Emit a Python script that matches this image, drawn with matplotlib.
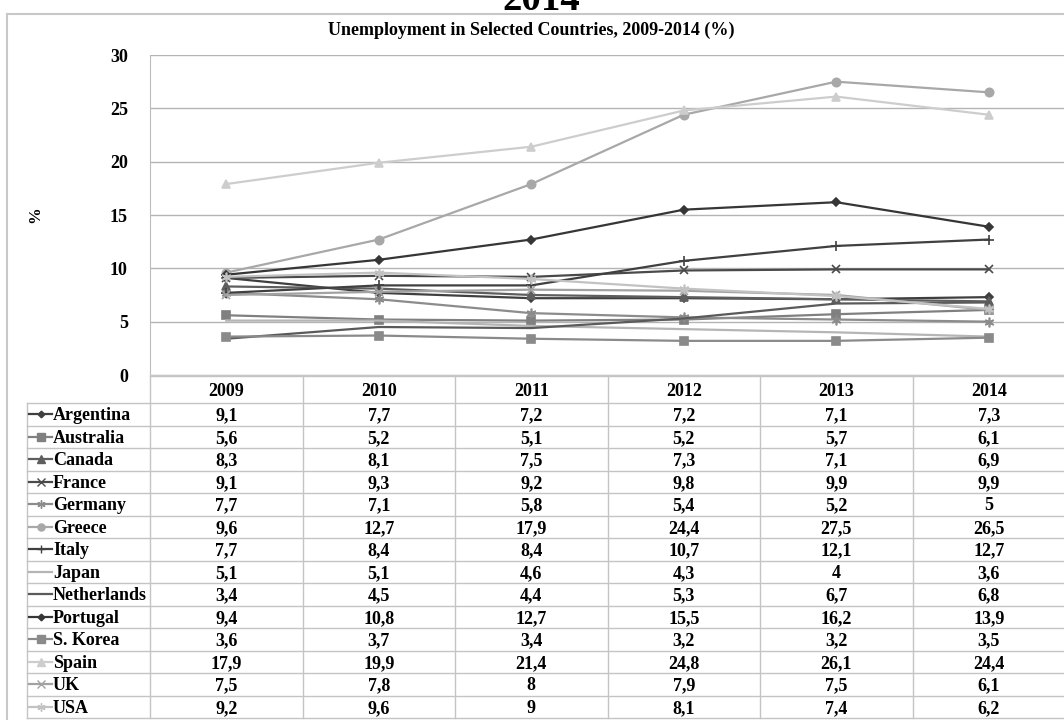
import matplotlib
matplotlib.use("Agg")
import matplotlib.pyplot as plt
from matplotlib.transforms import blended_transform_factory

years = ["2009", "2010", "2011", "2012", "2013", "2014"]
countries = ["Argentina", "Australia", "Canada", "France", "Germany", "Greece", "Italy",
             "Japan", "Netherlands", "Portugal", "S. Korea", "Spain", "UK", "USA"]

argentina = [9.1, 7.7, 7.2, 7.2, 7.1, 7.3]
australia = [5.6, 5.2, 5.1, 5.2, 5.7, 6.1]
canada = [8.3, 8.1, 7.5, 7.3, 7.1, 6.9]
france = [9.1, 9.3, 9.2, 9.8, 9.9, 9.9]
germany = [7.7, 7.1, 5.8, 5.4, 5.2, 5]
greece = [9.6, 12.7, 17.9, 24.4, 27.5, 26.5]
italy = [7.7, 8.4, 8.4, 10.7, 12.1, 12.7]
japan = [5.1, 5.1, 4.6, 4.3, 4, 3.6]
netherlands = [3.4, 4.5, 4.4, 5.3, 6.7, 6.8]
portugal = [9.4, 10.8, 12.7, 15.5, 16.2, 13.9]
s_korea = [3.6, 3.7, 3.4, 3.2, 3.2, 3.5]
spain = [17.9, 19.9, 21.4, 24.8, 26.1, 24.4]
uk = [7.5, 7.8, 8, 7.9, 7.5, 6.1]
usa = [9.2, 9.6, 9, 8.1, 7.4, 6.2]

series = [argentina, australia, canada, france, germany, greece, italy,
          japan, netherlands, portugal, s_korea, spain, uk, usa]

# grayscale styles, excel-like
star = (6, 2, 0)
styles = [
    ("#3f3f3f", "D", 4),
    ("#808080", "s", 6),
    ("#5e5e5e", "^", 6),
    ("#4a4a4a", "x", 6),
    ("#8c8c8c", star, 7),
    ("#a8a8a8", "o", 6),
    ("#404040", "+", 7),
    ("#b5b5b5", None, 0),
    ("#5a5a5a", None, 0),
    ("#363636", "D", 4),
    ("#8a8a8a", "s", 6),
    ("#cdcdcd", "^", 6),
    ("#a2a2a2", "x", 6),
    ("#c2c2c2", star, 7),
]

W, H = 1064, 720
fig = plt.figure(figsize=(W / 100, H / 100), dpi=100)
plt.rcParams["font.family"] = ["Liberation Serif", "DejaVu Serif"]


def px_x(v):
    return v / W


def px_y(v):
    return 1 - v / H


ax_left, ax_right, ax_top, ax_bot = 150, 1065, 55, 375
ax = fig.add_axes([px_x(ax_left), px_y(ax_bot), px_x(ax_right - ax_left), (ax_bot - ax_top) / H])

xs = list(range(len(years)))
for vals, (col, mk, ms) in zip(series, styles):
    ax.plot(xs, vals, color=col, lw=1.6, marker=mk, markersize=ms,
            markeredgecolor=col, markerfacecolor=col, markeredgewidth=1.2, zorder=3)

ax.set_xlim(-0.5, len(years) - 0.5)
ax.set_ylim(0, 30)
ax.set_yticks(range(0, 31, 5))
ax.set_yticklabels([str(v) for v in range(0, 31, 5)], fontsize=13, fontweight="bold")
ax.tick_params(axis="y", length=0, pad=16)
ax.set_xticks([])
ax.grid(axis="y", color="#b4b4b4", lw=1)
ax.set_axisbelow(True)
for s in ["top", "right"]:
    ax.spines[s].set_visible(False)
ax.spines["left"].set_color("#bcbcbc")
ax.spines["bottom"].set_color("#c8c8c8")

fig.text(px_x(35), px_y(215), "%", rotation=90, ha="center", va="center",
         fontsize=12, fontweight="bold")

# outer chart frame
fig.add_artist(plt.Line2D([px_x(7), px_x(7)], [px_y(14), px_y(720)], color="#c8c8c8", lw=1.5))
fig.add_artist(plt.Line2D([px_x(7), 1], [px_y(14), px_y(14)], color="#c8c8c8", lw=1.5))

# titles (the big one is cut at the top edge, as in the source)
fig.text(px_x(541), px_y(10), "2014", ha="center", va="baseline", fontsize=28, fontweight="bold")
fig.text(px_x(531), px_y(30), "Unemployment in Selected Countries, 2009-2014 (%)",
         ha="center", va="center", fontsize=13, fontweight="bold")

# data table below the axis
tr = blended_transform_factory(ax.transData, fig.transFigure)
head_top, head_bot, row_h = 376, 403, 22.5
n_rows = len(countries)
table_bot = head_bot + row_h * n_rows
grid_c = "#c4c4c4"
base_off = 6  # px from row centre down to text baseline

for i in range(len(years) + 1):
    fig.add_artist(plt.Line2D([i - 0.5, i - 0.5], [px_y(head_top), px_y(table_bot)],
                              color=grid_c, lw=1, transform=tr))
fig.add_artist(plt.Line2D([-0.5, len(years) - 0.5], [px_y(head_top), px_y(head_top)],
                          color=grid_c, lw=1, transform=tr))
for r in range(n_rows + 1):
    yy = px_y(head_bot + r * row_h)
    fig.add_artist(plt.Line2D([px_x(27), 1], [yy, yy], color=grid_c, lw=1))
fig.add_artist(plt.Line2D([px_x(27), px_x(27)], [px_y(head_bot), px_y(table_bot)], color=grid_c, lw=1))

for i, yr in enumerate(years):
    fig.text(i, px_y((head_top + head_bot) / 2 + base_off), yr, transform=tr, ha="center",
             va="baseline", fontsize=13, fontweight="bold")

for r, (name, vals, (col, mk, ms)) in enumerate(zip(countries, series, styles)):
    yc_px = head_bot + row_h * (r + 0.5)
    yc = px_y(yc_px)
    yb = px_y(yc_px + base_off)
    fig.add_artist(plt.Line2D([px_x(29), px_x(52)], [yc, yc], color=col, lw=1.6))
    if mk:
        fig.add_artist(plt.Line2D([px_x(40.5)], [yc], color=col, lw=0, marker=mk,
                                  markersize=ms * 0.85, markerfacecolor=col, markeredgecolor=col))
    fig.text(px_x(53), yb, name, ha="left", va="baseline", fontsize=13, fontweight="bold")
    for i, v in enumerate(vals):
        fig.text(i, yb, f"{v:g}".replace(".", ","), transform=tr, ha="center",
                 va="baseline", fontsize=13, fontweight="bold")

fig.savefig("out.png", dpi=100)
